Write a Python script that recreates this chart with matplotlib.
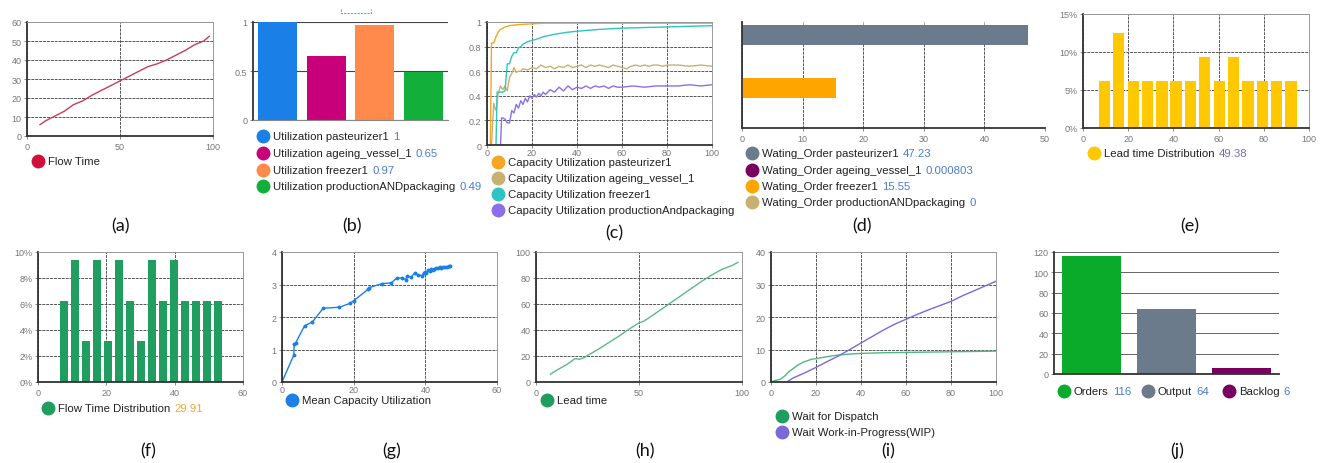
import matplotlib
matplotlib.use("Agg")
import matplotlib.pyplot as plt
from matplotlib.ticker import FuncFormatter

W, H = 1325, 464

# ---------------- data ----------------
a_x = [7, 10, 15, 20, 25, 30, 35, 40, 45, 50, 55, 60, 65, 70, 75, 80, 85, 90, 95, 98]
a_y = [6, 8, 10.5, 13, 16.5, 18.5, 21.5, 24, 26.5, 29, 31.5, 34, 36.5, 38, 40, 42.5, 45, 48, 50, 52.5]

b_labels = ["Utilization pasteurizer1", "Utilization ageing_vessel_1",
            "Utilization freezer1", "Utilization productionANDpackaging"]
b_values = [1, 0.65, 0.97, 0.49]
b_colors = ["#1a7fe6", "#c8007a", "#ff8a4c", "#12b03a"]

c_labels = ["Capacity Utilization pasteurizer1", "Capacity Utilization ageing_vessel_1",
            "Capacity Utilization freezer1", "Capacity Utilization productionAndpackaging"]
c_colors = ["#f5a623", "#c8b070", "#2ec4c4", "#8c6fe6"]
c_past_x = [1.5, 2, 3, 4, 5, 6, 8, 10, 12, 15, 20, 25, 30, 40, 60, 80, 100]
c_past_y = [0, 0.83, 0.83, 0.88, 0.92, 0.94, 0.96, 0.97, 0.975, 0.98, 0.985, 0.99, 0.99, 0.99, 0.99, 0.99, 0.99]
c_age_x = [2, 3, 3.5, 4, 5, 6, 7, 8, 9, 10, 11, 12, 13, 14, 15, 16, 18, 20, 22, 24, 26, 28, 30, 32, 34, 36,
           38, 40, 42, 44, 46, 48, 50, 52, 54, 56, 58, 60, 62, 64, 66, 68, 70, 72, 74, 76, 78, 80, 85, 90, 95, 100]
c_age_y = [0, 0.34, 0.30, 0.28, 0.42, 0.48, 0.45, 0.48, 0.44, 0.55, 0.58, 0.63, 0.59, 0.60, 0.60, 0.62, 0.61,
           0.63, 0.62, 0.65, 0.63, 0.64, 0.62, 0.64, 0.63, 0.65, 0.63, 0.64, 0.65, 0.63, 0.65, 0.64, 0.65, 0.64,
           0.63, 0.65, 0.64, 0.63, 0.62, 0.64, 0.65, 0.64, 0.65, 0.64, 0.65, 0.65, 0.64, 0.65, 0.65, 0.64, 0.65, 0.64]
c_frz_x = [4, 4.5, 5, 6, 7, 8, 8.5, 9, 10, 11, 12, 13, 14, 15, 16, 18, 20, 22, 25, 30, 35, 40, 50, 60, 70, 80, 90, 100]
c_frz_y = [0, 0.43, 0.43, 0.43, 0.43, 0.44, 0.55, 0.66, 0.66, 0.72, 0.75, 0.75, 0.79, 0.80, 0.82, 0.84, 0.85,
           0.86, 0.88, 0.90, 0.915, 0.925, 0.94, 0.95, 0.955, 0.96, 0.965, 0.97]
c_prod_x = [6, 6.5, 7, 8, 9, 10, 11, 12, 13, 14, 15, 16, 17, 18, 19, 20, 21, 22, 23, 24, 25, 26, 28, 30, 32, 34,
            36, 38, 40, 42, 44, 46, 48, 50, 52, 54, 56, 58, 60, 65, 70, 75, 80, 85, 90, 95, 100]
c_prod_y = [0, 0.22, 0.22, 0.21, 0.18, 0.18, 0.28, 0.26, 0.33, 0.30, 0.36, 0.33, 0.38, 0.35, 0.40, 0.38, 0.41,
            0.39, 0.42, 0.40, 0.43, 0.41, 0.45, 0.43, 0.47, 0.44, 0.48, 0.45, 0.47, 0.46, 0.48, 0.46, 0.48, 0.47,
            0.48, 0.46, 0.48, 0.47, 0.47, 0.48, 0.47, 0.48, 0.48, 0.48, 0.49, 0.48, 0.49]

d_labels = ["Wating_Order pasteurizer1", "Wating_Order ageing_vessel_1",
            "Wating_Order freezer1", "Wating_Order productionANDpackaging"]
d_values = [47.23, 0.000803, 15.55, 0]
d_value_text = ["47.23", "0.000803", "15.55", "0"]
d_colors = ["#6b7b8c", "#7a0060", "#ffa500", "#c8b070"]

e_centers = [9.4, 15.8, 22.2, 28.5, 34.9, 41.2, 47.6, 53.9, 60.3, 66.6, 73.0, 79.3, 85.7, 92.0]
e_values = [6.25, 12.5, 6.25, 6.25, 6.25, 6.25, 6.25, 9.375, 6.25, 9.375, 6.25, 6.25, 6.25, 6.25]

f_centers = [7.7, 10.9, 14.1, 17.3, 20.5, 23.7, 27.0, 30.2, 33.4, 36.6, 39.8, 43.0, 46.2, 49.4, 52.6]
f_values = [6.25, 9.375, 3.125, 9.375, 3.125, 9.375, 6.25, 3.125, 9.375, 6.25, 9.375, 6.25, 6.25, 6.25, 6.25]

g_x = [0, 3.3, 3.4, 3.8, 6.3, 8.5, 11.5, 16, 19, 20, 24, 24.2, 28, 30.5, 32, 33.5, 34.5, 35, 36, 37, 38, 39,
       39.5, 40, 40.3, 40.8, 41.2, 41.5, 42, 42.5, 43, 43.5, 44, 44.5, 45, 45.5, 46, 46.5, 47]
g_y = [0, 0.83, 1.17, 1.2, 1.73, 1.85, 2.27, 2.3, 2.42, 2.5, 2.85, 2.9, 3.03, 3.05, 3.2, 3.2, 3.15, 3.27, 3.22,
       3.35, 3.3, 3.27, 3.35, 3.4, 3.35, 3.45, 3.42, 3.48, 3.45, 3.47, 3.5, 3.5, 3.53, 3.52, 3.54, 3.53, 3.55,
       3.57, 3.58]

h_x = [7, 10, 15, 19, 21, 23, 30, 35, 40, 45, 50, 52, 55, 60, 65, 70, 75, 80, 85, 90, 95, 98]
h_y = [6, 9, 13.5, 18, 17.5, 18.5, 25, 30, 35, 40.5, 45.5, 46.5, 49.5, 55, 60.5, 66, 71.5, 77, 82, 86.5, 89.5, 92]

i_disp_x = [0, 2, 4, 6, 8, 10, 12, 14, 16, 18, 20, 25, 30, 35, 40, 50, 60, 70, 80, 90, 100]
i_disp_y = [0, 0.5, 0.8, 1.8, 3.2, 4.2, 5.2, 6.0, 6.5, 7.0, 7.2, 7.8, 8.3, 8.6, 8.8, 9.0, 9.1, 9.2, 9.3, 9.4, 9.5]
i_wip_x = [7, 10, 15, 20, 25, 30, 35, 40, 45, 50, 55, 60, 65, 70, 75, 80, 85, 90, 95, 100]
i_wip_y = [0, 1.3, 2.8, 4.5, 6.3, 8.0, 10.0, 12.0, 14.0, 16.0, 17.8, 19.3, 20.8, 22.2, 23.5, 24.8, 26.5, 28.0, 29.5, 31.0]

j_labels = ["Orders", "Output", "Backlog"]
j_values = [116, 64, 6]
j_colors = ["#0aaa2a", "#6b7b8c", "#7a0060"]

# ---------------- figure ----------------
plt.rcParams['font.family'] = ['Liberation Sans', 'DejaVu Sans']
fig = plt.figure(figsize=(W / 100, H / 100), dpi=100)
fig.patch.set_facecolor('white')

GRID = dict(color='#555555', linewidth=0.7, linestyle=(0, (3, 1)))


def add_ax(l, t, r, b):
    ax = fig.add_axes([l / W, 1 - b / H, (r - l) / W, (b - t) / H])
    ax.tick_params(labelsize=6.5, colors='#777777', length=2, width=0.6, pad=2)
    for s in ('left', 'bottom'):
        ax.spines[s].set_color('#333333')
        ax.spines[s].set_linewidth(1.3)
    for s in ('top', 'right'):
        ax.spines[s].set_color('#999999')
        ax.spines[s].set_linewidth(0.7)
        ax.spines[s].set_linestyle((0, (3, 1)))
    ax.set_axisbelow(True)
    return ax


pct = FuncFormatter(lambda v, p: f"{v:.0f}%")

# (a)
ax = add_ax(27, 23, 213, 137)
ax.plot(a_x, a_y, color='#c83c5a', lw=1)
ax.set_xlim(0, 100); ax.set_ylim(0, 60)
ax.set_xticks([0, 50, 100]); ax.set_yticks(range(0, 61, 10))
ax.grid(True, **GRID)

# (b)
ax = add_ax(253, 23, 448, 121)
ax.bar(range(len(b_values)), b_values, width=0.8, color=b_colors)
ax.set_xlim(-0.5, 3.5); ax.set_ylim(0, 1)
ax.set_xticks([]); ax.set_yticks([0, 0.5, 1]); ax.set_yticklabels(['0', '0.5', '1'])
ax.yaxis.grid(True, color='#444444', lw=0.8)
ax.spines['top'].set_visible(False); ax.spines['right'].set_visible(False)
ax.spines['bottom'].set_color('#888888'); ax.spines['bottom'].set_linewidth(0.8)

# (c)
ax = add_ax(487, 23, 712, 146)
for xs, ys, col in zip([c_past_x, c_age_x, c_frz_x, c_prod_x],
                       [c_past_y, c_age_y, c_frz_y, c_prod_y], c_colors):
    ax.plot(xs, ys, color=col, lw=1)
ax.set_xlim(0, 100); ax.set_ylim(0, 1)
ax.set_xticks(range(0, 101, 20)); ax.set_yticks([0, 0.2, 0.4, 0.6, 0.8, 1])
ax.set_yticklabels(['0', '0.2', '0.4', '0.6', '0.8', '1'])
ax.grid(True, **GRID)
ax.tick_params(axis='x', pad=0.5)

# (d)
ax = add_ax(742, 23, 1045, 129)
ax.barh(range(len(d_values)), d_values, height=0.77, color=d_colors)
ax.set_ylim(3.5, -0.5); ax.set_xlim(0, 50)
ax.set_yticks([]); ax.set_xticks(range(0, 51, 10))
ax.xaxis.grid(True, **GRID)
ax.spines['top'].set_visible(False)
ax.spines['right'].set_visible(False)

# (e)
ax = add_ax(1083, 15, 1309, 129)
ax.bar(e_centers, e_values, width=5.0, color='#ffc800')
ax.set_xlim(0, 100); ax.set_ylim(0, 15)
ax.set_xticks(range(0, 101, 20)); ax.set_yticks([0, 5, 10, 15])
ax.yaxis.set_major_formatter(pct)
ax.grid(True, **GRID)

# (f)
ax = add_ax(38, 253, 243, 383)
ax.bar(f_centers, f_values, width=2.33, color='#1f9e5f')
ax.set_xlim(0, 60); ax.set_ylim(0, 10)
ax.set_xticks([0, 20, 40, 60]); ax.set_yticks(range(0, 11, 2))
ax.yaxis.set_major_formatter(pct)
ax.grid(True, **GRID)

# (g)
ax = add_ax(282, 253, 497, 383)
ax.plot(g_x, g_y, color='#1a7fe6', lw=1, marker='o', ms=1.8)
ax.set_xlim(0, 60); ax.set_ylim(0, 4)
ax.set_xticks([0, 20, 40, 60]); ax.set_yticks(range(0, 5))
ax.grid(True, **GRID)
ax.tick_params(axis='x', pad=0.5)

# (h)
ax = add_ax(536, 253, 742, 383)
ax.plot(h_x, h_y, color='#5cb88a', lw=1)
ax.set_xlim(0, 100); ax.set_ylim(0, 100)
ax.set_xticks([0, 50, 100]); ax.set_yticks(range(0, 101, 20))
ax.grid(True, **GRID)

# (i)
ax = add_ax(771, 253, 996, 383)
ax.plot(i_disp_x, i_disp_y, color='#4cb884', lw=1)
ax.plot(i_wip_x, i_wip_y, color='#7b68d9', lw=1)
ax.set_xlim(0, 100); ax.set_ylim(0, 40)
ax.set_xticks(range(0, 101, 20)); ax.set_yticks(range(0, 41, 10))
ax.grid(True, **GRID)

# (j)
ax = add_ax(1054, 253, 1279, 375)
ax.bar(range(len(j_values)), j_values, width=0.79, color=j_colors)
ax.set_xlim(-0.5, 2.5); ax.set_ylim(0, 120)
ax.set_xticks([]); ax.set_yticks(range(0, 121, 20))
ax.yaxis.grid(True, color='#666666', lw=0.7)
ax.spines['top'].set_visible(False); ax.spines['right'].set_visible(False)

# ---------------- overlay: legends and panel labels ----------------
ov = fig.add_axes([0, 0, 1, 1])
ov.axis('off')
ov.set_xlim(0, W); ov.set_ylim(H, 0)

VAL = '#4a7bd0'


def leg(x, y, color, label, value=None, vcolor=VAL):
    ov.plot([x], [y], marker='o', ms=9, color=color, linestyle='')
    t = ov.text(x + 10, y, label, fontsize=8.2, va='center', ha='left', color='#222222')
    if value is not None:
        ov.annotate(value, xy=(1, 0.5), xycoords=t, xytext=(3, 0), textcoords='offset points',
                    fontsize=8.2, va='center', ha='left', color=vcolor)


leg(38, 162, '#d0103a', 'Flow Time')
for k, yy in enumerate([137, 154, 171, 187]):
    leg(263, yy, b_colors[k], b_labels[k], f"{b_values[k]:g}")
for k, yy in enumerate([163, 179, 195, 211]):
    leg(498, yy, c_colors[k], c_labels[k])
for k, yy in enumerate([154, 171, 187, 203]):
    leg(752, yy, d_colors[k], d_labels[k], d_value_text[k])
leg(1094, 154, '#ffc800', 'Lead time Distribution', '49.38', vcolor='#7a6ab0')
leg(48, 409, '#1f9e5f', 'Flow Time Distribution', '29.91', vcolor='#f0a830')
leg(292, 401, '#1a7fe6', 'Mean Capacity Utilization')
leg(547, 401, '#1f9e5f', 'Lead time')
leg(782, 417, '#1f9e5f', 'Wait for Dispatch')
leg(782, 433, '#7b68d9', 'Wait Work-in-Progress(WIP)')
for xx, k in zip([1064, 1148, 1229], range(3)):
    leg(xx, 392, j_colors[k], j_labels[k], f"{j_values[k]}")

# small dashed bracket above panel (b)
ov.plot([341, 341, 371, 371], [10, 14, 14, 10], color='#6aa0e0', lw=0.8, linestyle=(0, (2, 1)))

panel_labels = ['(a)', '(b)', '(c)', '(d)', '(e)', '(f)', '(g)', '(h)', '(i)', '(j)']
label_pos = [(120, 226), (352, 226), (614, 233), (862, 226), (1190, 226),
             (148, 451), (392, 451), (645, 451), (888, 451), (1177, 451)]
for lab, (xx, yy) in zip(panel_labels, label_pos):
    ov.text(xx, yy, lab, fontsize=13, ha='center', va='center', color='#111111',
            family=['Lato', 'DejaVu Sans'])

fig.savefig('out.png', dpi=100, facecolor='white')
